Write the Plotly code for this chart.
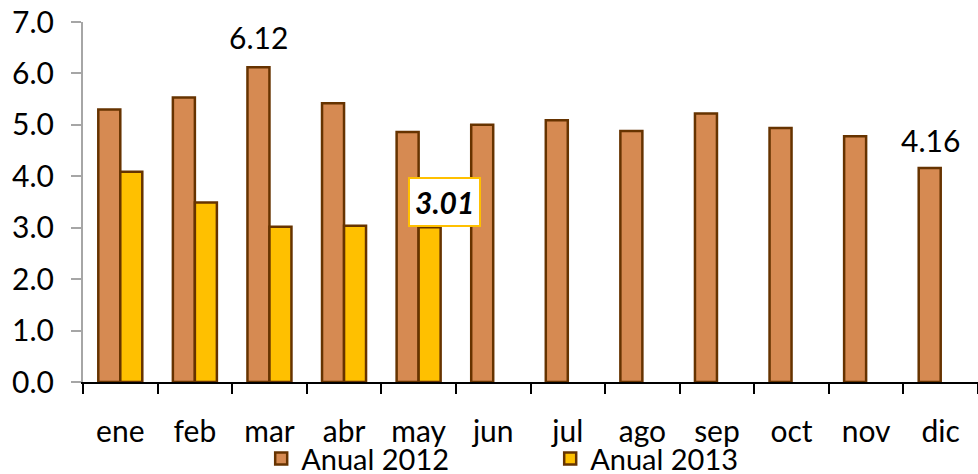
import plotly.graph_objects as go

months = ["ene", "feb", "mar", "abr", "may", "jun", "jul", "ago", "sep", "oct", "nov", "dic"]
anual_2012 = [5.30, 5.53, 6.12, 5.42, 4.86, 5.00, 5.09, 4.88, 5.22, 4.94, 4.78, 4.16]
anual_2013 = [4.09, 3.49, 3.02, 3.04, 3.01]
months_2013 = months[:len(anual_2013)]
y_ticks = [0, 1, 2, 3, 4, 5, 6, 7]

FONT = "Lato"
FS = 30
border = "#663300"

fig = go.Figure()
fig.add_trace(go.Bar(
    x=months, y=anual_2012, name="Anual 2012",
    marker=dict(color="#D68A52", line=dict(color=border, width=2.5)),
))
fig.add_trace(go.Bar(
    x=months_2013, y=anual_2013, name="Anual 2013",
    marker=dict(color="#FFC000", line=dict(color=border, width=2.5)),
))

# data labels
fig.add_annotation(x="mar", y=anual_2012[2], text=f"{anual_2012[2]:.2f}", showarrow=False,
                   xref="x", yref="y", yanchor="middle", yshift=30, xshift=-11,
                   font=dict(family=FONT, size=FS, color="#000"))
fig.add_annotation(x="dic", y=anual_2012[11], text=f"{anual_2012[11]:.2f}", showarrow=False,
                   xref="x", yref="y", yanchor="middle", yshift=28, xshift=-10,
                   bgcolor="white",
                   font=dict(family=FONT, size=FS, color="#000"))
fig.add_annotation(x="may", y=anual_2013[4], text=f"<b><i>{anual_2013[4]:.2f}</i></b>", showarrow=False,
                   xref="x", yref="y", yanchor="middle", yshift=25, xshift=26,
                   bgcolor="white", bordercolor="#FFC000", borderwidth=2, borderpad=5,
                   font=dict(family=FONT, size=FS, color="#000"))

fig.update_layout(
    width=978, height=474,
    margin=dict(l=83, r=0, t=22, b=92, autoexpand=False),
    paper_bgcolor="white", plot_bgcolor="white",
    barmode="group", bargap=0.41, bargroupgap=0,
    font=dict(family=FONT, size=FS, color="#000"),
    showlegend=True,
    legend=dict(orientation="h", x=0.522, xanchor="center", y=-0.142, yanchor="top",
                font=dict(family=FONT, size=29, color="#000"),
                entrywidth=244, entrywidthmode="pixels",
                tracegroupgap=0, itemwidth=30,
                bgcolor="rgba(0,0,0,0)"),
)
fig.update_xaxes(
    type="category", categoryorder="array", categoryarray=months,
    showline=True, linecolor="#000", linewidth=2,
    ticks="outside", tickson="boundaries", ticklen=10, tickwidth=2, tickcolor="#000",
    ticklabelstandoff=22, showgrid=False, zeroline=False, automargin=False,
    tickfont=dict(family=FONT, size=FS, color="#000"),
)
fig.update_yaxes(
    range=[0, 7], tickvals=y_ticks, ticktext=[f"{v:.1f}" for v in y_ticks],
    showline=True, linecolor="#A6A6A6", linewidth=2,
    ticks="outside", ticklen=10, tickwidth=2, tickcolor="#A6A6A6",
    ticklabelstandoff=11, showgrid=False, zeroline=False, automargin=False,
    tickfont=dict(family=FONT, size=FS, color="#000"),
)

fig.write_html("out.html", config={"displayModeBar": False},
               post_script="document.body.style.margin='0';document.body.style.overflow='hidden';")
